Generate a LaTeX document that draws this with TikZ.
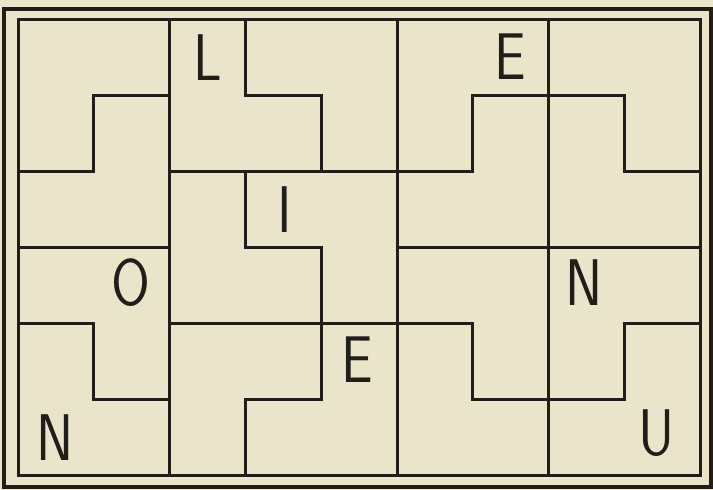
\documentclass[tikz,border=0pt]{standalone}
\usepackage{fontspec}

\definecolor{paper}{RGB}{234,228,203}
\definecolor{ink}{RGB}{33,29,25}

\begin{document}
\begin{tikzpicture}[
  x = 37.9pt, y = -38pt,
  wall/.style = {
    draw=ink, line width=1.5pt, line cap=rect
  },
  frame/.style = {
    draw=ink, line width=2pt
  },
  letter/.style = {
    inner sep=0pt, text=ink, xscale=0.85, transform shape,
    font=\sffamily\fontsize{33}{33}\selectfont
  }
]

% ====== PAPER ======
\fill[paper] (-0.2375,-0.263) rectangle (9.169,6.184);
\useasboundingbox (-0.2375,-0.263) rectangle (9.169,6.184);

% ====== FRAMES ======
\draw[frame] (-0.185,-0.14) rectangle (9.14,6.15);
\draw[wall] (0,0) rectangle (9,6);

% full-height columns
\foreach \c in {2,5,7}
  \draw[wall] (\c,0) -- (\c,6);

% ====== PIECE OUTLINES ======
% top row
\draw[wall] (0,2) -- (1,2) -- (1,1) -- (2,1);
\draw[wall] (3,0) -- (3,1) -- (4,1) -- (4,2);
\draw[wall] (2,2) -- (6,2) -- (6,1) -- (8,1) -- (8,2) -- (9,2);

% middle rows
\draw[wall] (0,3) -- (2,3);
\draw[wall] (3,2) -- (3,3) -- (4,3) -- (4,5) -- (3,5) -- (3,6);
\draw[wall] (5,3) -- (9,3);

% bottom rows
\draw[wall] (0,4) -- (1,4) -- (1,5) -- (2,5);
\draw[wall] (2,4) -- (6,4) -- (6,5) -- (8,5) -- (8,4) -- (9,4);

% ====== LETTERS ======
\node[letter] (l)  at (2.5,0.5)   {L};
\node[letter] (e1) at (6.5,0.48)  {E};
\node[letter] (i)  at (3.52,2.5)  {I};
\node[letter] (o)  at (1.49,3.45) {O};
\node[letter] (n1) at (0.49,5.5)  {N};
\node[letter] (e2) at (4.47,4.47) {E};
\node[letter] (n2) at (7.47,3.45) {N};
\node[letter] (u)  at (8.43,5.43) {U};

\end{tikzpicture}
\end{document}
